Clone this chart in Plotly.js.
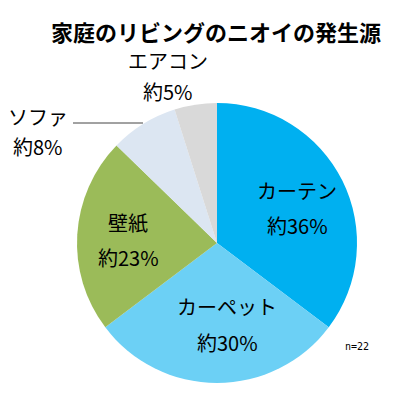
<!DOCTYPE html>
<html><head><meta charset="utf-8">
<script src="https://cdn.plot.ly/plotly-3.0.1.min.js"></script>
<style>html,body{margin:0;padding:0;background:#fff}#c{width:396px;height:406px}</style>
</head><body><div id="c"></div>
<script>
const categories = ["カーテン", "カーペット", "壁紙", "ソファ", "エアコン"];
const values = [36, 30, 23, 8, 5];
const percentTexts = ["約36%", "約30%", "約23%", "約8%", "約5%"];
const colors = ["#00B0F0", "#6CD0F5", "#9BBB59", "#DCE6F2", "#D9D9D9"];

const W = 396, H = 406;
const px = (x) => x / W, py = (y) => 1 - y / H;
const cx = 217, cy = 243, r = 140;
const font = "Noto Sans CJK JP, sans-serif";

// label pixel positions (center) : [x, yName, yPercent]
const labelPos = [[297, 190, 225], [227, 306, 342], [128, 222, 257], [38, 116, 147], [168, 61, 91]];

const annotations = [];
categories.forEach((c, i) => {
  annotations.push({text: c, x: px(labelPos[i][0]), y: py(labelPos[i][1]), xref: "paper", yref: "paper",
    showarrow: false, xanchor: "center", yanchor: "middle", font: {family: font, size: 20, color: "#000"}});
  annotations.push({text: percentTexts[i], x: px(labelPos[i][0]), y: py(labelPos[i][2]), xref: "paper", yref: "paper",
    showarrow: false, xanchor: "center", yanchor: "middle", font: {family: font, size: 20, color: "#000"}});
});
annotations.push({text: "n=22", x: px(357), y: py(346), xref: "paper", yref: "paper", xanchor: "center", yanchor: "middle",
  showarrow: false, font: {family: "DejaVu Sans Mono, monospace", size: 10, color: "#000"}});

Plotly.newPlot("c", [{
  type: "pie", labels: categories, values: values, sort: false,
  direction: "clockwise", rotation: 0, textinfo: "none", hoverinfo: "none",
  marker: {colors: colors, line: {width: 0}},
  domain: {x: [px(cx - r), px(cx + r)], y: [py(cy + r), py(cy - r)]}
}], {
  width: W, height: H, margin: {l: 0, r: 0, t: 0, b: 0},
  showlegend: false, paper_bgcolor: "#fff",
  title: {text: "<b>家庭のリビングのニオイの発生源</b>", x: px(216), xanchor: "center", y: py(33), yanchor: "middle",
    font: {family: "Noto Sans CJK JP, sans-serif", size: 22, color: "#000"}},
  annotations: annotations,
  shapes: [{type: "line", xref: "paper", yref: "paper", x0: px(73), x1: px(143), y0: py(123), y1: py(123),
    line: {color: "#444", width: 1}}]
}, {staticPlot: true});
</script></body></html>
